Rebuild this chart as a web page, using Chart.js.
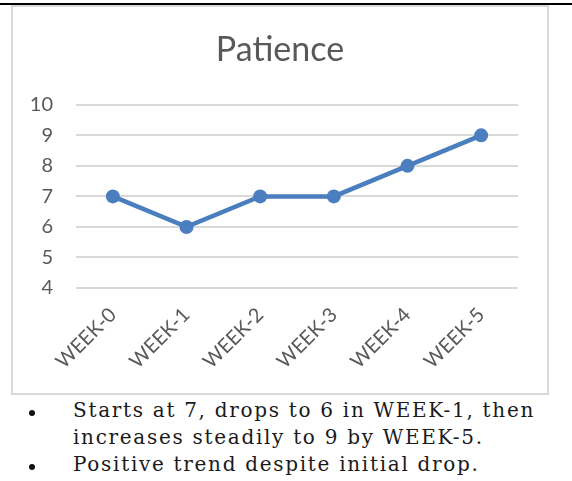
<!DOCTYPE html>
<html>
<head>
<meta charset="utf-8">
<script src="https://cdn.jsdelivr.net/npm/chart.js@4.4.1/dist/chart.umd.min.js"></script>
<style>
    html, body { margin: 0; padding: 0; background: #fff; width: 572px; height: 481px; overflow: hidden; }
    .rule { position: absolute; left: 0; top: 3px; width: 572px; height: 2px; background: #000; }
    .box { position: absolute; left: 11px; top: 5px; width: 534px; height: 386px; border: 2px solid #d9d9d9; }
    .box canvas { display: block; }
    .notes { position: absolute; left: 0; top: 397px; margin: 0; padding: 0; list-style: none;
             font-family: 'DejaVu Serif', serif; font-size: 20px; line-height: 27px; color: #1a1a1a;
             letter-spacing: 1.7px; }
    .notes li { position: relative; padding-left: 73px; white-space: nowrap; }
    .notes li::before { content: ''; position: absolute; left: 29px; top: 13px; width: 6px; height: 6px;
                        border-radius: 50%; background: #111; }
</style>
</head>
<body>
<div class="rule"></div>
<div class="box"><canvas id="chart" width="534" height="386"></canvas></div>
<ul class="notes">
    <li>Starts at 7, drops to 6 in WEEK-1, then<br>increases steadily to 9 by WEEK-5.</li>
    <li>Positive trend despite initial drop.</li>
</ul>
<script>
// dados do gráfico
const categories = ['WEEK-0', 'WEEK-1', 'WEEK-2', 'WEEK-3', 'WEEK-4', 'WEEK-5'];
const patienceValues = [7, 6, 7, 7, 8, 9];
const yTickValues = [4, 5, 6, 7, 8, 9, 10];
const chartTitle = 'Patience';

const textColor = '#595959';
const lineColor = '#4a7ebf';

const ctx = document.getElementById('chart').getContext('2d');
new Chart(ctx, {
    type: 'line',
    data: {
        labels: categories,
        datasets: [
            {
                label: chartTitle,
                data: patienceValues,
                yAxisID: 'y',
                borderColor: lineColor,
                backgroundColor: lineColor,
                borderWidth: 4.5,
                pointRadius: 7,
                pointBorderWidth: 0,
                pointBackgroundColor: lineColor,
                tension: 0
            }
        ]
    },
    options: {
        responsive: false,
        animation: false,
        layout: {
            padding: 0
        },
        plugins: {
            legend: { display: false },
            tooltip: { enabled: false },
            title: {
                display: true,
                text: chartTitle,
                color: textColor,
                font: { family: 'Lato', size: 34, weight: 'normal' },
                padding: { top: 23, bottom: 34 }
            }
        },
        scales: {
            x: {
                offset: true,
                grid: { display: false, drawTicks: false },
                border: { display: false },
                ticks: {
                    color: textColor,
                    font: { family: 'Lato', size: 20 },
                    minRotation: 45,
                    maxRotation: 45,
                    padding: 15
                },
                afterFit: (scale) => { scale.height = 105; }
            },
            y: {
                min: yTickValues[0],
                max: yTickValues[yTickValues.length - 1],
                afterBuildTicks: (scale) => {
                    scale.ticks = yTickValues.map(v => ({ value: v }));
                },
                grid: { color: '#d9d9d9', lineWidth: 2, drawTicks: false },
                border: { display: false },
                ticks: {
                    color: textColor,
                    font: { family: 'Lato', size: 20 },
                    padding: 23
                },
                afterFit: (scale) => { scale.width = 63; }
            },
            // eixo vazio à direita, só para reservar a margem
            yRight: {
                position: 'right',
                grid: { display: false, drawTicks: false },
                border: { display: false },
                ticks: { display: false },
                afterFit: (scale) => { scale.width = 29; }
            }
        }
    }
});
</script>
</body>
</html>
